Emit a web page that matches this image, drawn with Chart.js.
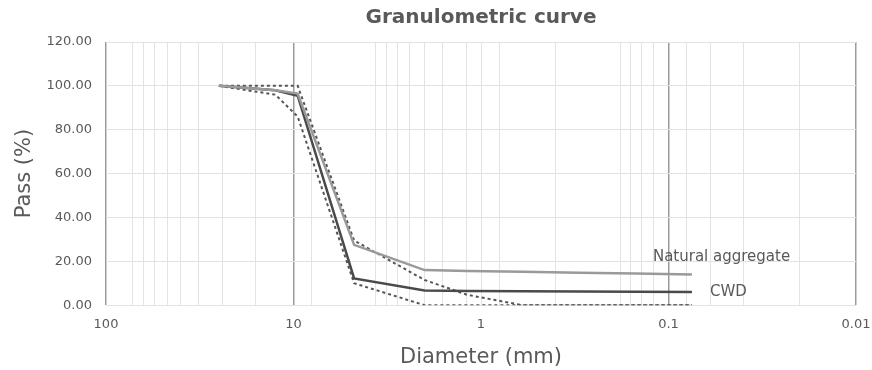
<!DOCTYPE html>
<html>
<head>
<meta charset="utf-8">
<script src="https://cdn.jsdelivr.net/npm/chart.js@4"></script>
<style>
  body { margin: 0; background: #fff; }
  canvas { display: block; }
</style>
</head>
<body>
<canvas id="myChart" width="872" height="370"></canvas>
<script>
// sieve openings (mm) and % passing
const diameters = [25, 12.5, 9.5, 4.75, 2.0, 1.18, 0.6, 0.3, 0.15, 0.075];
const naturalAggregate = [100, 98, 96.5, 27.5, 16, 15.6, 15.2, 14.8, 14.4, 14];
const cwd = [100, 98, 95.5, 12.2, 6.7, 6.5, 6.4, 6.2, 6.1, 6];
const upperLimit = [100, 100, 100, 29.5, 11.5, 4.7, 0, 0, 0, 0];
const lowerLimit = [100, 96, 86, 10, 0, 0, 0, 0, 0, 0];

// x axis: labelled decades + the extra vertical grid lines of the original
const xDecades = [100, 10, 1, 0.1, 0.01];
const xGridLines = [72, 63, 55, 47, 40, 32, 24, 16, 8, 3.67, 3.2, 2.8, 2.4, 2.0, 1.6, 1.2,
  0.8, 0.4, 0.18, 0.16, 0.14, 0.12, 0.08, 0.06, 0.04, 0.02];
const darkGridLines = [100, 10, 0.1, 0.01];
const yTicks = [0, 20, 40, 60, 80, 100, 120];

const gray = "#595959";
const font = "'DejaVu Sans', sans-serif";

const toPoints = (ys) => diameters.map((d, i) => ({ x: d, y: ys[i] }));

// title centred over the plot area, and the two line-end labels
const textPlugin = {
  id: "textPlugin",
  afterDatasetsDraw(chart) {
    const c = chart.ctx;
    const area = chart.chartArea;
    c.save();
    c.fillStyle = gray;
    c.textBaseline = "middle";
    c.textAlign = "center";
    c.font = "bold 20px " + font;
    c.fillText("Granulometric curve", (area.left + area.right) / 2, 18);

    c.font = "15px " + font;
    c.textAlign = "left";
    const nat = chart.getDatasetMeta(0).data;
    const p1 = nat[nat.length - 1];
    c.fillText("Natural aggregate", p1.x - 39, p1.y - 17);
    const cw = chart.getDatasetMeta(1).data;
    const p2 = cw[cw.length - 1];
    c.fillText("CWD", p2.x + 18, p2.y);
    c.restore();
  },
};

const ctx = document.getElementById("myChart");
const myChart = new Chart(ctx, {
  type: "line",
  plugins: [textPlugin],
  data: {
    datasets: [
      {
        label: "Natural aggregate",
        data: toPoints(naturalAggregate),
        borderColor: "#9a9a9a",
        borderWidth: 2.5,
      },
      {
        label: "CWD",
        data: toPoints(cwd),
        borderColor: "#4a4a4a",
        borderWidth: 2.5,
      },
      {
        label: "Upper limit",
        data: toPoints(upperLimit),
        borderColor: "#555",
        borderWidth: 2,
        borderDash: [3, 3],
      },
      {
        label: "Lower limit",
        data: toPoints(lowerLimit),
        borderColor: "#555",
        borderWidth: 2,
        borderDash: [3, 3],
      },
    ],
  },
  options: {
    responsive: false,
    animation: false,
    devicePixelRatio: 1,
    elements: { point: { radius: 0 }, line: { tension: 0 } },
    layout: { padding: { left: 12, right: 16, top: 42, bottom: 0 } },
    plugins: {
      legend: { display: false },
      tooltip: { enabled: false },
      title: { display: false },
    },
    scales: {
      x: {
        type: "logarithmic",
        reverse: true,
        min: 0.01,
        max: 100,
        afterBuildTicks(scale) {
          scale.ticks = xDecades.concat(xGridLines).sort((a, b) => b - a).map((v) => ({ value: v }));
        },
        afterFit(scale) {
          scale.paddingLeft = 0;
          scale.paddingRight = 0;
        },
        ticks: {
          autoSkip: false,
          maxRotation: 0,
          color: gray,
          font: { family: font, size: 13 },
          padding: 12,
          callback: (v) => (xDecades.includes(v) ? String(v) : ""),
        },
        grid: {
          drawTicks: false,
          color: (c) => (darkGridLines.includes(c.tick.value) ? "#9b9b9b" : "#e3e3e3"),
          lineWidth: (c) => (darkGridLines.includes(c.tick.value) ? 1.5 : 1),
        },
        border: { display: false },
        title: {
          display: true,
          text: "Diameter (mm)",
          color: gray,
          font: { family: font, size: 21 },
          padding: { top: 0, bottom: 0 },
        },
      },
      y: {
        min: 0,
        max: 120,
        afterBuildTicks(scale) {
          scale.ticks = yTicks.map((v) => ({ value: v }));
        },
        afterFit(scale) {
          scale.width = 94;
        },
        ticks: {
          color: gray,
          font: { family: font, size: 13 },
          padding: 14,
          callback: (v) => v.toFixed(2),
        },
        grid: { drawTicks: false, color: "#e3e3e3" },
        border: { display: false },
        title: {
          display: true,
          text: "Pass (%)",
          color: gray,
          font: { family: font, size: 21 },
          padding: { top: 0, bottom: 4 },
        },
      },
    },
  },
});
</script>
</body>
</html>
